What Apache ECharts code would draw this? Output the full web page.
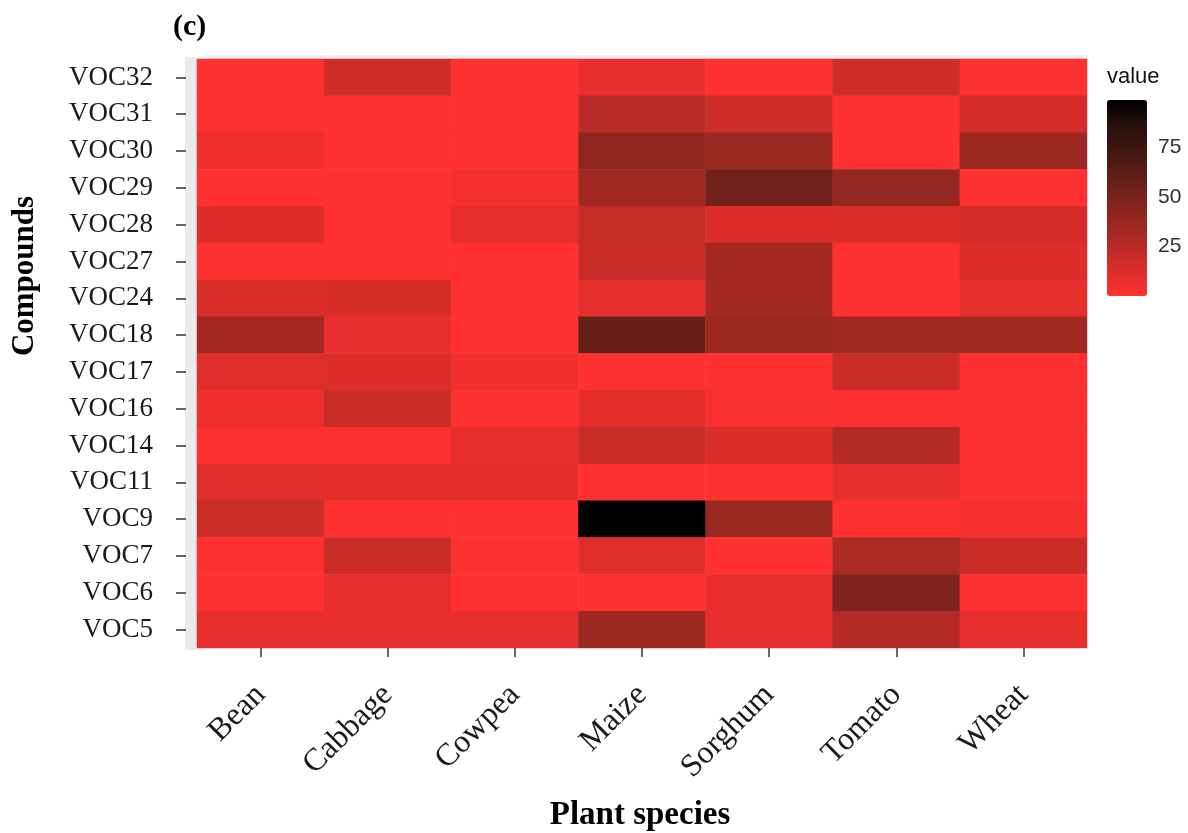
<!DOCTYPE html>
<html>
<head>
<meta charset="utf-8">
<script src="https://cdn.jsdelivr.net/npm/echarts@6/dist/echarts.min.js"></script>
<style>
html,body{margin:0;padding:0;background:#fff;}
#chart{width:1188px;height:833px;}
</style>
</head>
<body>
<div id="chart"></div>
<script>
// Categories
var species = ['Bean', 'Cabbage', 'Cowpea', 'Maize', 'Sorghum', 'Tomato', 'Wheat'];
// top to bottom
var compounds = ['VOC32', 'VOC31', 'VOC30', 'VOC29', 'VOC28', 'VOC27', 'VOC24', 'VOC18',
                 'VOC17', 'VOC16', 'VOC14', 'VOC11', 'VOC9', 'VOC7', 'VOC6', 'VOC5'];
// values per species, in compounds order (VOC32 ... VOC5)
var bean    = [0, 0, 6, 0, 12, 0, 13, 33, 11, 6, 0, 11, 18, 0, 0, 8];
var cabbage = [17, 0, 0, 0, 0, 0, 14, 8, 12, 19, 0, 10, 0, 19, 8, 8];
var cowpea  = [0, 0, 0, 4, 9, 0, 0, 0, 5, 0, 8, 10, 0, 0, 0, 8];
var maize   = [8, 25, 41, 34, 21, 20, 9, 57, 0, 10, 20, 0, 99, 11, 0, 36];
var sorghum = [0, 17, 37, 54, 12, 33, 33, 36, 0, 2, 13, 0, 37, 0, 8, 8];
var tomato  = [17, 0, 0, 39, 13, 0, 0, 34, 19, 1, 27, 8, 0, 30, 48, 27];
var wheat   = [0, 15, 36, 0, 15, 12, 9, 34, 0, 0, 0, 0, 3, 19, 0, 9];
var legendTicks = [25, 50, 75];
var valueMin = 0, valueMax = 99;

var columns = [bean, cabbage, cowpea, maize, sorghum, tomato, wheat];
var data = [];
columns.forEach(function (col, i) {
  col.forEach(function (v, j) { data.push([i, j, v]); });
});

// Lab-space gradient from firebrick1 to black (low -> high)
var ramp = ['#FF3030', '#DC2E2B', '#BA2B26', '#992821', '#7A231C', '#5B1E17', '#3E1712', '#24100A', '#000000'];

var serif = '"Liberation Serif", "Times New Roman", serif';
var sans = '"Liberation Sans", Arial, sans-serif';

var chart = echarts.init(document.getElementById('chart'));
chart.setOption({
  backgroundColor: '#ffffff',
  animation: false,
  graphic: [
    { type: 'rect', z: -10, shape: { x: 185, y: 57, width: 12, height: 593 }, style: { fill: '#EBEBEB' } },
    { type: 'rect', z: -10, shape: { x: 205, y: 55, width: 882, height: 4 }, style: { fill: '#EFEFEF' } },
    { type: 'text', left: 173, top: 12, style: { text: '(c)', font: 'bold 30px ' + serif, fill: '#000' } },
    { type: 'text', x: 25, y: 276, rotation: Math.PI / 2,
      style: { text: 'Compounds', font: 'bold 31px ' + serif, fill: '#000', textAlign: 'center', textVerticalAlign: 'middle' } },
    { type: 'text', x: 640, y: 815,
      style: { text: 'Plant species', font: 'bold 33px ' + serif, fill: '#000', textAlign: 'center', textVerticalAlign: 'middle' } },
    { type: 'text', left: 1107, top: 66, style: { text: 'value', font: '22px ' + sans, fill: '#111' } }
  ],
  grid: [
    { left: 197, right: 101, top: 59, bottom: 185, containLabel: false },
    { left: 1107, top: 100, width: 40, height: 196 }
  ],
  xAxis: [
    {
      type: 'category', data: species, gridIndex: 0,
      axisLine: { show: false },
      axisTick: { show: true, alignWithLabel: true, length: 9, lineStyle: { color: '#333', width: 1.5 } },
      axisLabel: { rotate: 45, margin: 42, fontFamily: serif, fontSize: 32, color: '#1a1a1a' },
      splitLine: { show: false }
    },
    { type: 'value', gridIndex: 1, show: false, min: 0, max: 1 }
  ],
  yAxis: [
    {
      type: 'category', data: compounds, inverse: true, gridIndex: 0, offset: 11,
      axisLine: { show: false },
      axisTick: { show: true, alignWithLabel: true, length: 10, lineStyle: { color: '#333', width: 1.5 } },
      axisLabel: { margin: 33, fontFamily: serif, fontSize: 27, color: '#1a1a1a' },
      splitLine: { show: false }
    },
    {
      type: 'value', gridIndex: 1, position: 'left', min: valueMin, max: valueMax, interval: 25,
      axisLine: { show: false },
      axisTick: { show: true, inside: true, length: 8, customValues: legendTicks, lineStyle: { color: '#ffffff', width: 1.5, opacity: 0.8 } },
      axisLabel: { show: false },
      splitLine: { show: false }
    },
    {
      type: 'value', gridIndex: 1, position: 'right', min: valueMin, max: valueMax, interval: 25,
      axisLine: { show: false },
      axisTick: { show: true, inside: true, length: 8, customValues: legendTicks, lineStyle: { color: '#ffffff', width: 1.5, opacity: 0.8 } },
      axisLabel: { show: true, inside: false, margin: 11, customValues: legendTicks, fontFamily: sans, fontSize: 21, color: '#333' },
      splitLine: { show: false }
    }
  ],
  visualMap: {
    type: 'continuous', seriesIndex: 0, min: valueMin, max: valueMax,
    orient: 'vertical', left: 1107, top: 100, itemWidth: 40, itemHeight: 196,
    padding: 0, calculable: false, text: null, showLabel: false,
    inRange: { color: ramp }
  },
  series: [
    {
      type: 'heatmap', xAxisIndex: 0, yAxisIndex: 0, data: data,
      itemStyle: { borderWidth: 0 },
      emphasis: { disabled: true }
    },
    { type: 'scatter', xAxisIndex: 1, yAxisIndex: 1, data: [], silent: true }
  ]
});
</script>
</body>
</html>
